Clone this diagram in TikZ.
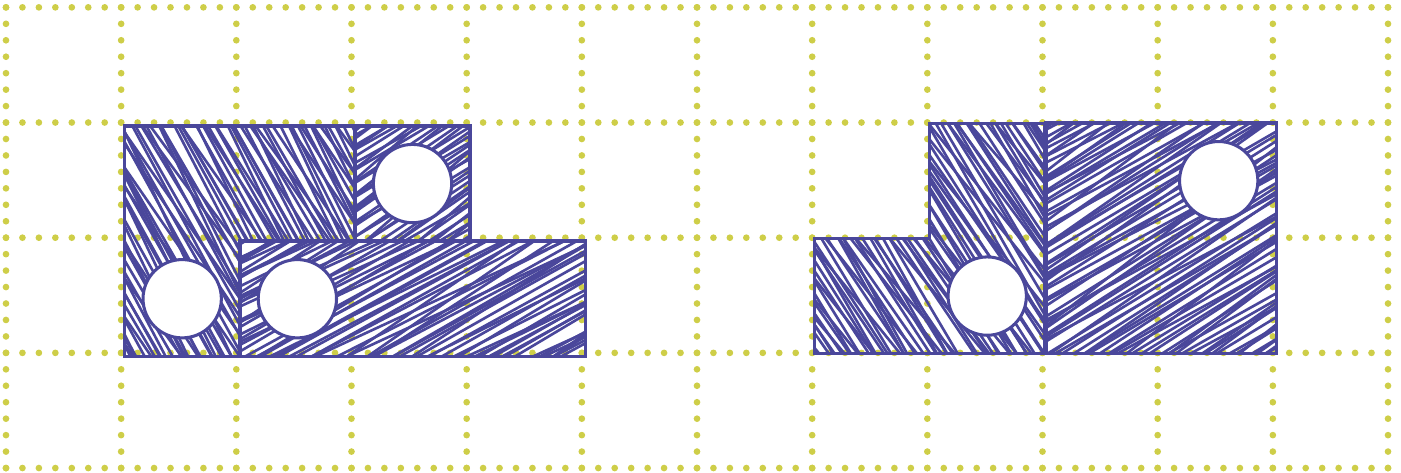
\documentclass[tikz,border=0pt]{standalone}
\definecolor{pblue}{RGB}{74,71,155}
\definecolor{gdot}{RGB}{206,206,72}
\tikzset{
  griddot/.style={gdot, line width=1.65pt, line cap=round, dash pattern=on 0pt off 0.142857cm},
  outline/.style={pblue, line width=0.85pt, line join=miter},
  hatchline/.style={pblue, line width=0.65pt},
  hole/.style={pblue, fill=white, line width=0.75pt},
}
% #1 cx, #2 cy, #3 radius, #4 angle, #5 seed
\newcommand\myhatch[5]{%
  \pgfmathsetseed{#5}%
  \pgfmathtruncatemacro\nn{2*#3/0.05}%
  \foreach \i in {0,...,\nn}{%
    \pgfmathsetmacro\dd{-#3+\i*0.05+0.015*rand}%
    \pgfmathsetmacro\aa{#4+3*rand}%
    \draw[hatchline,shift={(#1,#2)},rotate=\aa] (-#3,\dd) -- (#3,\dd);
  }%
  \pgfmathtruncatemacro\nn{2*#3/0.09}%
  \foreach \i in {0,...,\nn}{%
    \pgfmathsetmacro\dd{-#3+\i*0.09+0.03*rand}%
    \pgfmathsetmacro\aa{#4+5+4*rand}%
    \draw[hatchline,shift={(#1,#2)},rotate=\aa] (-#3,\dd) -- (#3,\dd);
  }%
}
\begin{document}
\begin{tikzpicture}
\useasboundingbox (-0.052,-0.035) rectangle (12.113,4.064);
% grid
\foreach \x in {0,...,12} \draw[griddot] (\x,0) -- (\x,4);
\foreach \y in {0,...,4} \draw[griddot] (0,\y) -- (12,\y);

% left figure
\begin{scope}[shift={(0.03,-0.03)}]
  \begin{scope}
    \clip (1,1) -- (1,3) -- (3,3) -- (3,2) -- (2,2) -- (2,1) -- cycle;
    \myhatch{2}{2}{1.45}{-62}{11}
  \end{scope}
  \begin{scope}
    \clip (3,2) rectangle (4,3);
    \myhatch{3.5}{2.5}{0.75}{32}{12}
  \end{scope}
  \begin{scope}
    \clip (2,1) rectangle (5,2);
    \myhatch{3.5}{1.5}{1.6}{27}{13}
  \end{scope}
  \draw[outline] (1,1) -- (1,3) -- (3,3) -- (3,2) -- (2,2) -- (2,1) -- cycle;
  \draw[outline] (3,2) rectangle (4,3);
  \draw[outline] (2,1) rectangle (5,2);
  \draw[hole] (1.5,1.5) circle (0.34);
  \draw[hole] (3.5,2.5) circle (0.34);
  \draw[hole] (2.5,1.5) circle (0.34);
\end{scope}

% right figure
\begin{scope}[shift={(0.02,-0.007)}]
  \begin{scope}
    \clip (7,1) -- (7,2) -- (8,2) -- (8,3) -- (9,3) -- (9,1) -- cycle;
    \myhatch{8}{2}{1.45}{-58}{21}
  \end{scope}
  \draw[outline] (7,1) -- (7,2) -- (8,2) -- (8,3) -- (9,3) -- (9,1) -- cycle;
  \draw[hole] (8.5,1.5) circle (0.34);
\end{scope}
\begin{scope}[shift={(0.03,-0.005)}]
  \begin{scope}
    \clip (9,1) rectangle (11,3);
    \myhatch{10}{2}{1.45}{30}{22}
  \end{scope}
  \draw[outline] (9,1) rectangle (11,3);
  \draw[hole] (10.5,2.5) circle (0.34);
\end{scope}
\end{tikzpicture}
\end{document}
